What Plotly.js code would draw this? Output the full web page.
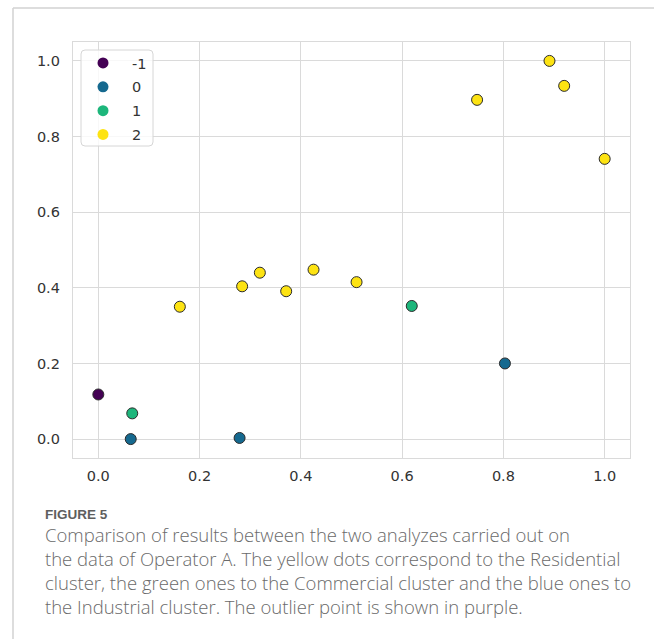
<!DOCTYPE html>
<html>
<head>
<meta charset="utf-8">
<script src="https://cdn.plot.ly/plotly-3.0.1.min.js"></script>
<style>
  html, body { margin: 0; padding: 0; background: #ffffff; }
  #wrap { position: relative; width: 654px; height: 639px; overflow: hidden; }
  #chart { position: absolute; left: 0; top: 0; width: 654px; height: 639px; }
  .cap { position: absolute; left: 45px; white-space: nowrap; }
  #figlabel { top: 508.8px; line-height: 11px; font-family: "Liberation Sans", sans-serif;
              font-size: 13.5px; font-weight: 700; color: #5e5e5e; }
  #captext { top: 522.6px; line-height: 24px; font-family: "Open Sans", sans-serif;
             font-size: 18.5px; font-weight: 300; color: #6a6a6a; }
</style>
</head>
<body>
<div id="wrap">
  <div id="chart"></div>
  <div id="figlabel" class="cap"></div>
  <div id="captext" class="cap"></div>
</div>
<script>
// ---- data ----
var clusterNames = ["-1", "0", "1", "2"];
var clusterColors = ["#440154", "#15698f", "#1db67b", "#fde312"];

var xOutlier = [0.000];
var yOutlier = [0.118];

var xCluster0 = [0.064, 0.279, 0.803];
var yCluster0 = [0.000, 0.003, 0.200];

var xCluster1 = [0.067, 0.619];
var yCluster1 = [0.068, 0.352];

var xCluster2 = [0.161, 0.284, 0.319, 0.371, 0.425, 0.510, 0.748, 0.891, 0.920, 1.000];
var yCluster2 = [0.350, 0.404, 0.440, 0.391, 0.448, 0.415, 0.897, 1.000, 0.934, 0.741];

var tickVals = [0.0, 0.2, 0.4, 0.6, 0.8, 1.0];

var figureLabel = "FIGURE 5";
var captionLines = [
  "Comparison of results between the two analyzes carried out on",
  "the data of Operator A. The yellow dots correspond to the Residential",
  "cluster, the green ones to the Commercial cluster and the blue ones to",
  "the Industrial cluster. The outlier point is shown in purple."
];

// ---- caption (real text) ----
document.getElementById("figlabel").textContent = figureLabel;
var capEl = document.getElementById("captext");
captionLines.forEach(function (t) {
  var d = document.createElement("div");
  d.textContent = t;
  capEl.appendChild(d);
});

// ---- layout geometry ----
var W = 654, H = 639;
var mL = 73, mR = 24, mT = 42, mB = 181;
var plotW = W - mL - mR, plotH = H - mT - mB;
function px(xp) { return (xp - mL) / plotW; }
function py(yp) { return (H - mB - yp) / plotH; }

var xs = [xOutlier, xCluster0, xCluster1, xCluster2];
var ys = [yOutlier, yCluster0, yCluster1, yCluster2];

var traces = [];
for (var i = 0; i < clusterNames.length; i++) {
  traces.push({
    type: "scatter", mode: "markers",
    x: xs[i], y: ys[i],
    name: clusterNames[i],
    legendgroup: "g" + i,
    showlegend: false,
    cliponaxis: false,
    marker: { color: clusterColors[i], size: 11, line: { color: "#2b2b2b", width: 1 } },
    hoverinfo: "x+y"
  });
}
// legend-only entries (markers without edge, like the reference legend)
for (var j = 0; j < clusterNames.length; j++) {
  traces.push({
    type: "scatter", mode: "markers",
    x: [null], y: [null],
    name: clusterNames[j],
    legendgroup: "g" + j,
    showlegend: true,
    marker: { color: clusterColors[j], size: 11, line: { width: 0 } }
  });
}

var tickFont = { family: "DejaVu Sans", size: 14.5, color: "#333333" };
var gridColor = "#dadada";

var axisCommon = {
  range: [-0.05, 1.05],
  tickvals: tickVals,
  tickformat: ".1f",
  showgrid: true, gridcolor: gridColor, gridwidth: 1.3,
  zeroline: false,
  showline: true, linecolor: gridColor, linewidth: 1.3, mirror: true,
  ticks: "", tickfont: tickFont,
  ticklabelstandoff: 9,
  fixedrange: true
};

var shapes = [
  // card frame (top and left border)
  { type: "line", xref: "paper", yref: "paper", x0: px(13), x1: px(660), y0: py(8), y1: py(8),
    line: { color: "#d2d2d2", width: 1.5 } },
  { type: "line", xref: "paper", yref: "paper", x0: px(13), x1: px(13), y0: py(8), y1: py(645),
    line: { color: "#d2d2d2", width: 1.5 } },
  // legend box (rounded)
  { type: "path", xref: "paper", yref: "paper", layer: "above",
    path: (function () {
      var x0 = px(81), x1 = px(153), y0 = py(50), y1 = py(146);
      var rx = 4 / plotW, ry = 4 / plotH;
      return "M" + (x0 + rx) + "," + y0 + " L" + (x1 - rx) + "," + y0 +
        " Q" + x1 + "," + y0 + " " + x1 + "," + (y0 - ry) +
        " L" + x1 + "," + (y1 + ry) + " Q" + x1 + "," + y1 + " " + (x1 - rx) + "," + y1 +
        " L" + (x0 + rx) + "," + y1 + " Q" + x0 + "," + y1 + " " + x0 + "," + (y1 + ry) +
        " L" + x0 + "," + (y0 - ry) + " Q" + x0 + "," + y0 + " " + (x0 + rx) + "," + y0 + " Z";
    })(),
    fillcolor: "rgba(255,255,255,0.8)",
    line: { color: "#d6d6d6", width: 1 } }
];

var layout = {
  width: W, height: H,
  margin: { l: mL, r: mR, t: mT, b: mB, pad: 0 },
  paper_bgcolor: "#ffffff", plot_bgcolor: "#ffffff",
  font: { family: "DejaVu Sans", size: 14, color: "#333333" },
  xaxis: Object.assign({}, axisCommon, { ticklabelstandoff: 4 }),
  yaxis: Object.assign({}, axisCommon),
  showlegend: true,
  legend: {
    x: px(74), y: py(47), xanchor: "left", yanchor: "top",
    bgcolor: "rgba(0,0,0,0)", borderwidth: 0,
    itemwidth: 48, tracegroupgap: 2,
    font: { family: "DejaVu Sans", size: 14.5, color: "#333333" }
  },
  shapes: shapes,
  hovermode: "closest"
};

Plotly.newPlot("chart", traces, layout, { displayModeBar: false, staticPlot: false });
</script>
</body>
</html>
